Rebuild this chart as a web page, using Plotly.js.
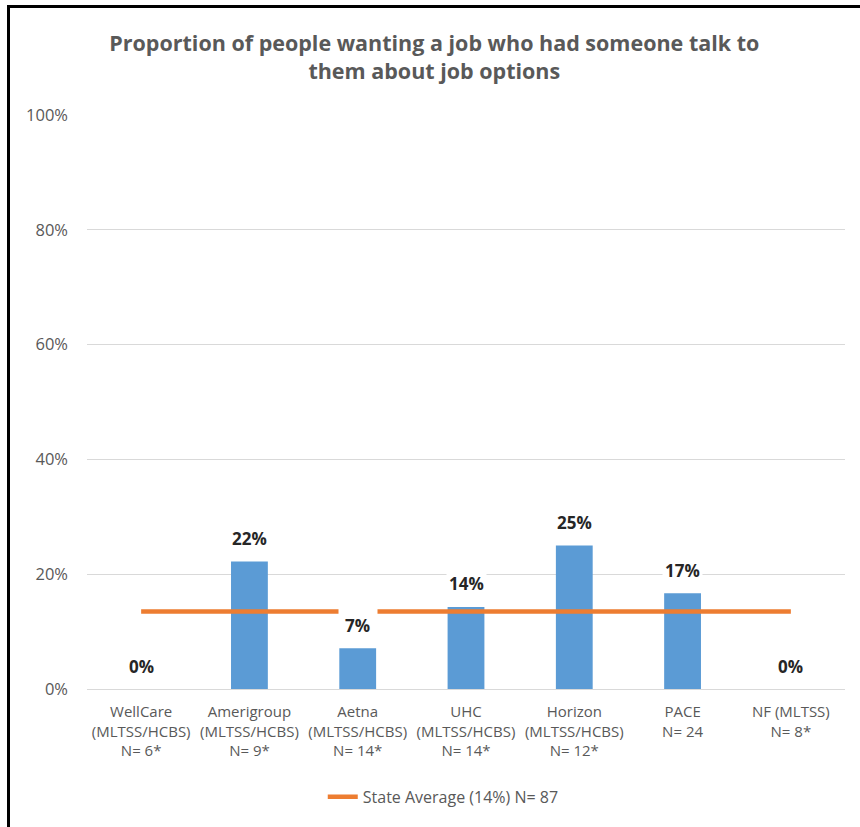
<!DOCTYPE html>
<html>
<head>
<meta charset="utf-8">
<script src="https://cdn.plot.ly/plotly-3.0.1.min.js"></script>
<style>
  html, body { margin: 0; padding: 0; background: #fff; }
  #wrap { position: relative; width: 860px; height: 827px; }
  #chart { position: absolute; left: 0; top: 0; width: 860px; height: 827px; }
  #frame { position: absolute; left: 7px; top: 5px; width: 860px; height: 830px;
           border-left: 3px solid #000; border-top: 3px solid #000; pointer-events: none; }
</style>
</head>
<body>
<div id="wrap">
  <div id="chart"></div>
  <div id="frame"></div>
</div>
<script>
const categories = [
  "WellCare<br>(MLTSS/HCBS)<br>N= 6*",
  "Amerigroup<br>(MLTSS/HCBS)<br>N= 9*",
  "Aetna<br>(MLTSS/HCBS)<br>N= 14*",
  "UHC<br>(MLTSS/HCBS)<br>N= 14*",
  "Horizon<br>(MLTSS/HCBS)<br>N= 12*",
  "PACE<br>N= 24",
  "NF (MLTSS)<br>N= 8*"
];
const planValues = [0, 0.222, 0.071, 0.143, 0.25, 0.167, 0];
const valueLabels = ["0%", "22%", "7%", "14%", "25%", "17%", "0%"];
const stateAverage = 0.135;
const stateAverageName = "State Average (14%) N= 87";
const yTickVals = [0, 0.2, 0.4, 0.6, 0.8, 1.0];
const yTickText = ["0%", "20%", "40%", "60%", "80%", "100%"];

const FONT = "'Open Sans', 'Noto Sans', sans-serif";
const GRAY = "#595959";

const barTrace = {
  type: "bar",
  x: categories,
  y: planValues,
  marker: { color: "#5B9BD5" },
  showlegend: false,
  hoverinfo: "skip"
};

const lineTrace = {
  type: "scatter",
  mode: "lines",
  x: categories,
  y: categories.map(() => stateAverage),
  name: stateAverageName,
  line: { color: "#ED7D31", width: 4.5 },
  hoverinfo: "skip"
};

const annotations = categories.map((c, i) => ({
  x: c, y: planValues[i], xref: "x", yref: "y",
  text: "<b>" + valueLabels[i] + "</b>",
  showarrow: false, yshift: 23,
  bgcolor: "#ffffff", borderpad: 2,
  font: { family: FONT, size: 17, color: "#262626" }
}));
// white label box interrupting the state-average line at Aetna
annotations.push({
  x: categories[2], y: stateAverage, xref: "x", yref: "y",
  text: " ", showarrow: false, width: 38, height: 10,
  bgcolor: "#ffffff", borderpad: 0, font: { size: 8 }
});

const layout = {
  width: 860, height: 827,
  margin: { l: 87, r: 15, t: 115, b: 138, autoexpand: false },
  paper_bgcolor: "#ffffff", plot_bgcolor: "#ffffff",
  font: { family: FONT, color: GRAY },
  title: {
    text: "<b>Proportion of people wanting a job who had someone talk to<br>them about job options</b>",
    font: { family: FONT, size: 21.5, color: GRAY },
    x: 0.505, xanchor: "center", y: 0.938, yanchor: "top"
  },
  bargap: 0.66,
  xaxis: {
    type: "category", automargin: false,
    tickfont: { family: FONT, size: 15, color: GRAY },
    showgrid: false, showline: false, zeroline: false,
    ticks: "", ticklabelstandoff: 12
  },
  yaxis: {
    range: [0, 1], automargin: false,
    tickvals: yTickVals, ticktext: yTickText,
    tickfont: { family: FONT, size: 16.5, color: GRAY },
    showgrid: true, gridcolor: "#D9D9D9", gridwidth: 1,
    zeroline: true, zerolinecolor: "#D9D9D9", zerolinewidth: 1,
    showline: false, ticks: "", ticklabelstandoff: 18
  },
  legend: {
    orientation: "h", x: 0.47, xanchor: "center", y: -0.188, yanchor: "middle",
    font: { family: FONT, size: 16, color: GRAY }
  },
  annotations: annotations
};

Plotly.newPlot("chart", [barTrace, lineTrace], layout, { displayModeBar: false, staticPlot: true });
</script>
</body>
</html>
